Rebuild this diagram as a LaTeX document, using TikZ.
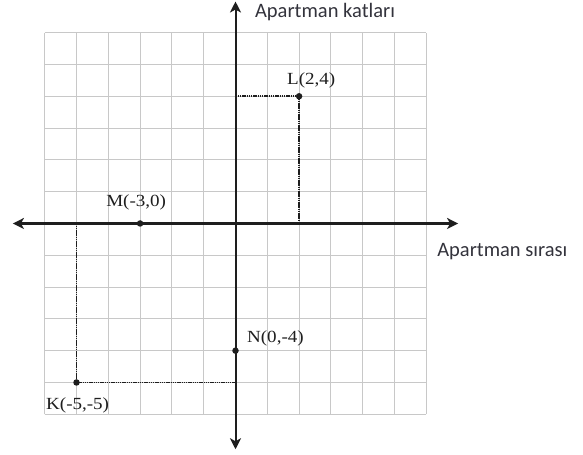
\documentclass[tikz,border=0pt]{standalone}
\usepackage{fontspec}
\setmainfont{Liberation Serif}
\newfontfamily\lblsans{Carlito}
\usetikzlibrary{arrows.meta}
\definecolor{gridgray}{HTML}{C8C8C8}
\definecolor{axisblack}{HTML}{1E1E1E}
\definecolor{textgray}{HTML}{33333C}
\tikzset{
  gridline/.style={gridgray, line width=1.1pt},
  axisline/.style={axisblack, line width=2.6pt, {Stealth[length=11pt,width=11pt,inset=3pt]}-{Stealth[length=11pt,width=11pt,inset=3pt]}},
  axislinev/.style={axisblack, line width=2pt, {Stealth[length=11pt,width=11pt,inset=3pt]}-{Stealth[length=11pt,width=11pt,inset=3pt]}},
  guideline/.style={axisblack, line width=1.7pt, dash pattern=on 1.5pt off 0.7pt},
  ptdot/.style={circle, fill=axisblack, inner sep=0pt, minimum size=6.5pt},
  ptlabel/.style={inner sep=0pt, anchor=base west, text=axisblack, font=\fontsize{17}{20}\selectfont},
  axlabel/.style={inner sep=0pt, anchor=base west, text=textgray, font=\lblsans\fontsize{20.5}{24}\selectfont},
}
\begin{document}
\begin{tikzpicture}[x=31.8pt, y=31.8pt]
\useasboundingbox (-7.406,-7.280) rectangle (10.928,7.028);
\fill[white] (-7.406,-7.280) rectangle (10.928,7.028);
% grid
\foreach \k in {-6,...,6} {
  \draw[gridline] (\k,-6) -- (\k,6);
  \draw[gridline] (-6,\k) -- (6,\k);
}
% axes
\coordinate (xl) at (-7.0,0);
\coordinate (xr) at (7.0,0);
\coordinate (yt) at (0,6.98);
\coordinate (yb) at (0,-7.1);
\draw[axisline] (xl) -- (xr);
\draw[axislinev] (yb) -- (yt);
% points
\coordinate (L) at (2,4);
\coordinate (M) at (-3,0);
\coordinate (N) at (0,-4);
\coordinate (K) at (-5,-5);
\coordinate (Ly) at (0,4);
\coordinate (Lx) at (2,0);
\coordinate (Kx) at (-5,0);
\coordinate (Ky) at (0,-5);
% guides
\draw[guideline] (Ly) -- (L) -- (Lx);
\draw[guideline] (Kx) -- (K) -- (Ky);
% dots
\node[ptdot] (dL) at (L) {};
\node[ptdot] (dM) at (M) {};
\node[ptdot] (dN) at (N) {};
\node[ptdot] (dK) at (K) {};
% labels
\node[ptlabel] (tL) at (1.62,4.355) {\scalebox{1.12}[1]{L(2,4)}};
\node[ptlabel] (tM) at (-4.07,0.52) {\scalebox{1.12}[1]{M(-3,0)}};
\node[ptlabel] (tN) at (0.36,-3.73) {\scalebox{1.12}[1]{N(0,-4)}};
\node[ptlabel] (tK) at (-5.96,-5.86) {\scalebox{1.12}[1]{K(-5,-5)}};
\node[axlabel] (ay) at (0.61,6.48) {Apartman katları};
\node[axlabel] (ax) at (6.34,-1.053) {Apartman sırası};
\end{tikzpicture}
\end{document}
